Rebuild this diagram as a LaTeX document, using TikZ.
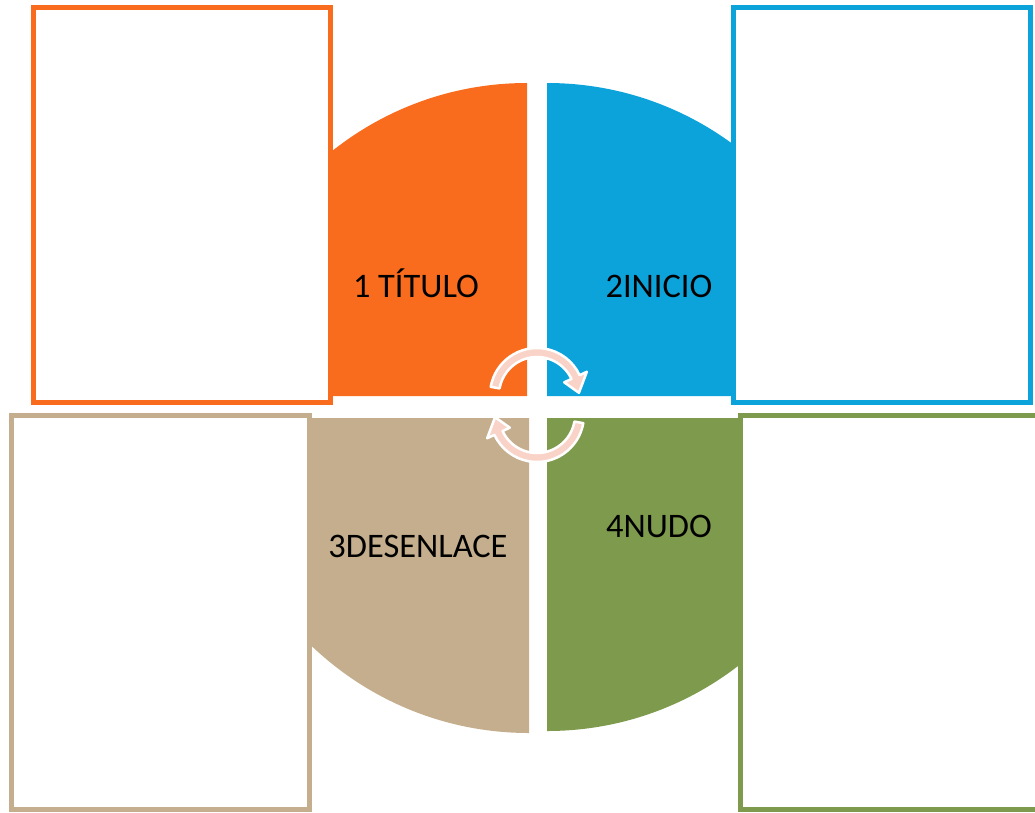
\documentclass[tikz,border=0pt]{standalone}
\usepackage{fontspec}
\setmainfont{Carlito}
\definecolor{titulo}{HTML}{F96C1D}
\definecolor{inicio}{HTML}{0BA3DA}
\definecolor{desenlace}{HTML}{C4AE8D}
\definecolor{nudo}{HTML}{7E9A4C}
\definecolor{arrowpink}{HTML}{FAD3C8}
\begin{document}
\begin{tikzpicture}[x=1pt, y=-1pt,
  panel/.style={draw, line width=5pt, fill=white, inner sep=0pt, minimum width=297pt, minimum height=395pt},
  tag/.style={font=\fontsize{34.4}{40}\selectfont, inner sep=0pt, anchor=base},
  cyclearrow/.style={fill=arrowpink, draw=white, line width=2.5pt, line join=round}]
\useasboundingbox (0,0) rectangle (1035,812);
% quarters of the circle
\fill[titulo] (527,396) -- (214,396) arc[start angle=180, end angle=270, radius=313] -- cycle;
\fill[inicio] (547,396) -- (547,83) arc[start angle=270, end angle=360, radius=313] -- cycle;
\fill[nudo] (547,418) -- (860,418) arc[start angle=0, end angle=90, radius=313] -- cycle;
\fill[desenlace] (529,418) -- (529,733) arc[start angle=90, end angle=180, radius=315] -- cycle;
% side panels
\node[panel, draw=titulo] (boxtitulo) at (182,205) {};
\node[panel, draw=inicio] (boxinicio) at (882,205) {};
\node[panel, draw=desenlace, minimum width=298.5pt, minimum height=394pt] (boxdesenlace) at (160.25,612.5) {};
\node[panel, draw=nudo, minimum width=299.5pt, minimum height=394pt] (boxnudo) at (890.25,612.5) {};
% turning arrows
\begin{scope}[shift={(537,395)}]
\draw[cyclearrow] (190:47) arc[start angle=190, end angle=335, radius=47] -- (335:55) -- (357:42) -- (335:30) -- (335:38) arc[start angle=335, end angle=190, radius=38] -- cycle;
\end{scope}
\begin{scope}[shift={(537,415)}]
\draw[cyclearrow] (10:47) arc[start angle=10, end angle=155, radius=47] -- (155:55) -- (177:42) -- (155:30) -- (155:38) arc[start angle=155, end angle=10, radius=38] -- cycle;
\end{scope}
% labels
\node[tag] (titulo) at (416,297) {1 TÍTULO};
\node[tag] (inicio) at (659,297) {2INICIO};
\node[tag] (desenlace) at (418,557) {3DESENLACE};
\node[tag] (nudo) at (659,537) {4NUDO};
\end{tikzpicture}
\end{document}
